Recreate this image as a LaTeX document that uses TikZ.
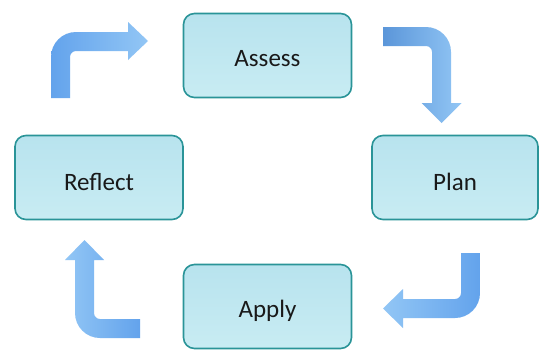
\documentclass[tikz,border=0pt]{standalone}
\usepackage{fontspec}
\setmainfont{Carlito}
\begin{document}
\begin{tikzpicture}[x=1pt,y=-1pt,
  stagebox/.style={draw=boxedge, line width=1.6pt, rounded corners=11pt,
    top color=boxtop, bottom color=boxbot, minimum width=#1, minimum height=84pt,
    inner sep=0pt, font=\fontsize{25}{28}\selectfont, text=black!90},
  stagetext/.style={font=\fontsize{25}{28}\selectfont, text=black!90},
  bentarrow/.style={left color=arrowA, right color=arrowB, draw=none}]
\definecolor{boxedge}{HTML}{2A9498}
\definecolor{boxtop}{HTML}{B8E3EE}
\definecolor{boxbot}{HTML}{C8ECF3}
\definecolor{arrowA}{HTML}{63A3EC}
\definecolor{arrowB}{HTML}{92C6F5}
\useasboundingbox (0,0) rectangle (540,351);
\fill[white] (0,0) rectangle (540,351);

% the four stages of the cycle
\node[stagebox=168pt] (assess)  at (267.5,55.5)  {};
\node[stagebox=166pt] (plan)    at (455,177.5)   {};
\node[stagebox=168pt] (reflect) at (99,177.5)    {};
\node[stagebox=168pt] (apply)   at (267.5,306.5) {};
\node[stagetext] (assesst)  at ([yshift=-3pt]assess.center)  {Assess};
\node[stagetext] (plant)    at ([yshift=-4pt]plan.center)    {Plan};
\node[stagetext] (reflectt) at ([yshift=-4pt]reflect.center) {Reflect};
\node[stagetext] (applyt)   at ([yshift=-4pt]apply.center)   {Apply};

% Reflect -> Assess: up, then right
\path[bentarrow] (51,98) -- (51,57) arc[start angle=180,end angle=270,radius=25]
  -- (128,32) -- (128,22) -- (148,41) -- (128,60) -- (128,51)
  -- (76,51) arc[start angle=270,end angle=180,radius=6] -- (70,98) -- cycle;

% Assess -> Plan: right, then down
\path[bentarrow, left color=arrowA!92!black, right color=arrowB] (383,27) -- (426,27) arc[start angle=270,end angle=360,radius=25]
  -- (451,103) -- (461.5,103) -- (441.5,123) -- (421.5,103) -- (432,103)
  -- (432,52) arc[start angle=0,end angle=-90,radius=6] -- (383,46) -- cycle;

% Plan -> Apply: down, then left
\path[bentarrow, left color=arrowB, right color=arrowA] (461,253) -- (480,253) -- (480,293) arc[start angle=0,end angle=90,radius=25]
  -- (403,318) -- (403,328) -- (383,308.5) -- (403,289) -- (403,299)
  -- (455,299) arc[start angle=90,end angle=0,radius=6] -- cycle;

% Apply -> Reflect: left, then up
\path[bentarrow, left color=arrowB, right color=arrowA] (140,338) -- (100,338) arc[start angle=90,end angle=180,radius=25]
  -- (75,260) -- (65,260) -- (84.5,240) -- (104,260) -- (94,260)
  -- (94,313) arc[start angle=180,end angle=90,radius=6] -- (140,319) -- cycle;
\end{tikzpicture}
\end{document}
